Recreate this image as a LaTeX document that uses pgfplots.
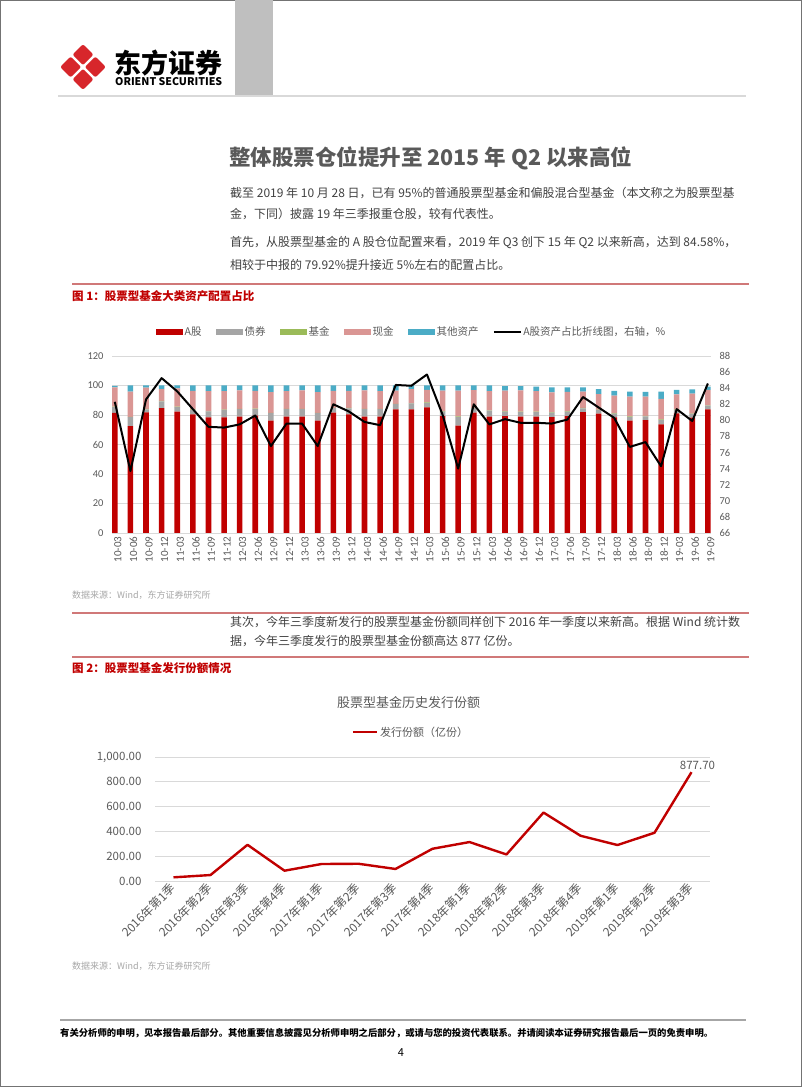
\documentclass[border=0pt]{standalone}
\usepackage{fontspec}
\setmainfont{Noto Sans CJK SC}
\newfontfamily\carlito{Carlito}
\usepackage{graphicx}
\usepackage{pgfplots}
\pgfplotsset{compat=1.18}
\usepackage{pgfplotstable}

\definecolor{ared}{HTML}{C00000}
\definecolor{bgray}{HTML}{A5A5A5}
\definecolor{fgreen}{HTML}{9BBB59}
\definecolor{cpink}{HTML}{DA9694}
\definecolor{oblue}{HTML}{4BACC6}
\definecolor{txt}{HTML}{404040}
\definecolor{tickc}{HTML}{595959}
\definecolor{gridc}{HTML}{D9D9D9}
\definecolor{rulec}{HTML}{D07878}
\definecolor{srcc}{HTML}{A6A6A6}
\definecolor{logored}{HTML}{D7262B}

\pgfplotsset{barleg/.style={legend image code/.code={\fill[##1] (0pt,-3pt) rectangle (27pt,3pt);}}}

\pgfplotstableread{
i a b f c d line
0 81.4 4.0 0.3 13.0 1.1 82.3
1 72.5 6.0 0.3 17.0 4.2 73.7
2 81.8 2.0 0.3 14.5 1.4 82.6
3 84.7 4.5 0.3 8.0 2.5 85.25
4 82.3 3.0 0.3 12.5 1.9 83.6
5 80.5 3.0 0.3 12.5 3.7 81.4
6 78.4 4.0 0.3 13.5 3.8 79.2
7 78.4 5.0 0.3 12.5 3.8 79.1
8 78.9 5.0 0.3 12.5 3.3 79.5
9 79.5 4.5 0.3 12.0 3.7 80.6
10 76.2 5.0 0.3 14.0 4.5 76.8
11 78.9 5.0 0.3 12.0 3.8 79.6
12 78.9 5.0 0.3 12.5 3.3 79.6
13 76.2 5.0 0.3 14.0 4.5 76.8
14 81.6 3.0 0.3 11.5 3.6 82.0
15 80.5 4.0 0.3 11.5 3.7 81.1
16 78.9 5.0 0.3 12.5 3.3 79.8
17 78.9 5.0 0.3 12.0 3.8 79.4
18 83.8 3.5 0.3 9.0 3.4 84.4
19 83.8 4.0 0.3 9.5 2.4 84.3
20 85.2 3.0 0.3 8.5 3.0 85.7
21 79.3 3.0 0.3 14.0 3.4 80.7
22 72.8 6.0 0.3 17.5 3.4 74.0
23 81.6 3.0 0.3 12.0 3.1 82.0
24 78.9 4.0 0.3 13.0 3.8 79.5
25 79.3 3.0 0.3 14.0 2.9 80.15
26 78.9 3.0 0.3 14.5 2.8 79.7
27 78.9 3.0 0.3 14.0 3.0 79.7
28 78.6 3.0 0.3 13.5 3.4 79.6
29 79.3 3.0 0.3 13.0 3.2 80.1
30 82.0 2.5 0.3 11.0 3.0 82.9
31 80.9 2.5 0.3 10.5 3.3 81.6
32 78.4 2.5 0.3 12.0 3.1 80.3
33 76.2 2.5 0.3 13.5 3.3 76.7
34 76.6 2.5 0.3 13.0 3.2 77.3
35 73.7 3.0 0.3 14.0 4.8 74.3
36 81.1 2.5 0.3 10.0 3.1 81.4
37 78.2 2.5 0.3 13.5 2.8 79.92
38 83.8 2.5 0.3 10.5 2.2 84.58
}\alloc

\pgfplotstableread{
i v
0 29.5
1 48
2 292
3 83
4 137
5 139
6 97
7 260
8 314
9 214
10 552
11 365
12 290
13 389
14 877.7
}\issue

\newcommand{\fs}[1]{\fontsize{#1}{#1}\selectfont}

\begin{document}
\begin{tikzpicture}[x=1pt,y=1pt]
\path[use as bounding box] (0pt,0pt) rectangle (802pt,1087pt);
\draw[black!55, line width=0.8pt] (0.6pt,0.6pt) rectangle (801.4pt,1086.4pt);

% ---------- header ----------
\fill[black!25] (235pt,1087pt) rectangle (273pt,991pt);
\draw[black!15, line width=2pt] (58pt,991pt) -- (746pt,991pt);
\begin{scope}[shift={(83pt,1020pt)}]
  \foreach \dx/\dy in {0/12.3, -12.3/0, 12.3/0, 0/-12.3}{
    \fill[logored, rounded corners=2pt] (\dx pt,\dy pt+10.5pt) -- (\dx pt+10.5pt,\dy pt) -- (\dx pt,\dy pt-10.5pt) -- (\dx pt-10.5pt,\dy pt) -- cycle;
  }
\end{scope}
\node[anchor=west, inner sep=0pt] at (114pt,1024pt) {\resizebox{108pt}{!}{\bfseries\fs{27}东方证券}};
\node[anchor=west, inner sep=0pt] at (115pt,1005pt) {\resizebox{107pt}{!}{\bfseries\fs{10}ORIENT SECURITIES}};

% ---------- title and text ----------
\node[anchor=west, inner sep=0pt, text=tickc] at (229pt,929pt) {\bfseries\fs{21.5}整体股票仓位提升至 2015 年 Q2 以来高位};
\node[anchor=west, inner sep=0pt, text=txt] at (230pt,894pt) {\fs{12}截至 2019 年 10 月 28 日，已有 95\%的普通股票型基金和偏股混合型基金（本文称之为股票型基};
\node[anchor=west, inner sep=0pt, text=txt] at (230pt,873pt) {\fs{12}金，下同）披露 19 年三季报重仓股，较有代表性。};
\node[anchor=west, inner sep=0pt, text=txt] at (230pt,844pt) {\fs{12}首先，从股票型基金的 A 股仓位配置来看，2019 年 Q3 创下 15 年 Q2 以来新高，达到 84.58\%，};
\node[anchor=west, inner sep=0pt, text=txt] at (230pt,822pt) {\fs{12}相较于中报的 79.92\%提升接近 5\%左右的配置占比。};

\draw[rulec, line width=1.3pt] (72pt,803pt) -- (749pt,803pt);
\node[anchor=west, inner sep=0pt, text=ared] at (72pt,791pt) {\bfseries\fs{11.5}图 1：股票型基金大类资产配置占比};

% ---------- chart 1 ----------
\begin{axis}[
  at={(112pt,554pt)}, anchor=south west,
  scale only axis, width=599pt, height=177pt,
  xmin=-0.18, xmax=38.2, ymin=0, ymax=120,
  ybar stacked, bar width=5.6pt,
  ytick={0,20,...,120},
  xtick={0,...,38},
  xticklabels={10-03,10-06,10-09,10-12,11-03,11-06,11-09,11-12,12-03,12-06,12-09,12-12,13-03,13-06,13-09,13-12,14-03,14-06,14-09,14-12,15-03,15-06,15-09,15-12,16-03,16-06,16-09,16-12,17-03,17-06,17-09,17-12,18-03,18-06,18-09,18-12,19-03,19-06,19-09},
  axis line style={draw=none},
  major tick length=0pt,
  ymajorgrids, grid style={gridc, line width=0.8pt},
  tick label style={font=\carlito\fs{10.5}, text=tickc},
  /pgf/number format/assume math mode=true,
  yticklabel style={xshift=-5pt},
  xticklabel style={font=\carlito\fs{11}, rotate=90, anchor=east, xshift=0pt, yshift=-3pt},
  legend style={at={(0.5,1.136)}, anchor=center, legend columns=6, draw=none, fill=none,
    font=\fs{10.5}, text=tickc, nodes={inner xsep=1.5pt},
    /tikz/every even column/.append style={column sep=13pt}},
  legend cell align=left,
]
\addplot[fill=ared, draw=none, barleg] table[x=i,y=a]{\alloc};
\addlegendentry{A股}
\addplot[fill=bgray, draw=none, barleg] table[x=i,y=b]{\alloc};
\addlegendentry{债券}
\addplot[fill=fgreen, draw=none, barleg] table[x=i,y=f]{\alloc};
\addlegendentry{基金}
\addplot[fill=cpink, draw=none, barleg] table[x=i,y=c]{\alloc};
\addlegendentry{现金}
\addplot[fill=oblue, draw=none, barleg] table[x=i,y=d]{\alloc};
\addlegendentry{其他资产}
\addlegendimage{legend image code/.code={\draw[black, line width=1.8pt] (0pt,0pt) -- (27pt,0pt);}}
\addlegendentry{A股资产占比折线图，右轴，\%}
\end{axis}

\begin{axis}[
  at={(112pt,554pt)}, anchor=south west,
  scale only axis, width=599pt, height=177pt,
  xmin=-0.18, xmax=38.2, ymin=66, ymax=88,
  ytick={66,68,...,88},
  axis x line=none,
  axis y line*=right,
  axis line style={draw=none},
  major tick length=0pt,
  tick label style={font=\carlito\fs{10.5}, text=tickc},
  /pgf/number format/assume math mode=true,
  yticklabel style={xshift=5pt},
]
\addplot[black, line width=2pt, mark=none, line join=round] table[x=i,y=line]{\alloc};
\end{axis}

\node[anchor=west, inner sep=0pt, text=srcc] at (72pt,492pt) {\fs{9}数据来源：Wind，东方证券研究所};
\draw[rulec, line width=1.3pt] (72pt,474pt) -- (749pt,474pt);
\node[anchor=west, inner sep=0pt, text=txt] at (230pt,465pt) {\fs{12}其次，今年三季度新发行的股票型基金份额同样创下 2016 年一季度以来新高。根据 Wind 统计数};
\node[anchor=west, inner sep=0pt, text=txt] at (230pt,446pt) {\fs{12}据，今年三季度发行的股票型基金份额高达 877 亿份。};
\draw[rulec, line width=1.3pt] (72pt,430pt) -- (749pt,430pt);
\node[anchor=west, inner sep=0pt, text=ared] at (72pt,419pt) {\bfseries\fs{11.5}图 2：股票型基金发行份额情况};

% ---------- chart 2 ----------
\begin{axis}[
  at={(155pt,206pt)}, anchor=south west,
  scale only axis, width=555pt, height=124pt,
  xmin=-0.5, xmax=14.5, ymin=0, ymax=1000,
  ytick={0,200,...,1000},
  yticklabels={0.00,200.00,400.00,600.00,800.00,{1,000.00}},
  xtick={0,...,14},
  xticklabels={2016年第1季,2016年第2季,2016年第3季,2016年第4季,2017年第1季,2017年第2季,2017年第3季,2017年第4季,2018年第1季,2018年第2季,2018年第3季,2018年第4季,2019年第1季,2019年第2季,2019年第3季},
  axis line style={draw=none},
  major tick length=0pt,
  ymajorgrids, grid style={gridc, line width=0.8pt},
  yticklabel style={font=\fs{11.5}, text=tickc, xshift=-10pt},
  xticklabel style={font=\fs{12}, text=tickc, rotate=45, anchor=east, yshift=-3pt},
  title={股票型基金历史发行份额},
  title style={at={(0.457,1.39)}, anchor=center, font=\fs{13}, text=tickc},
  legend style={at={(0.461,1.2)}, anchor=center, draw=none, fill=none, font=\fs{11}, text=tickc},
  legend image code/.code={\draw[#1] (0pt,0pt) -- (24pt,0pt);},
]
\addplot[ared, line width=2.4pt, mark=none, line join=round] table[x=i,y=v]{\issue};
\addlegendentry{发行份额（亿份）}
\addplot[draw=none, mark=none, forget plot, nodes near coords={877.70},
  every node near coord/.append style={font=\fs{11.5}, text=tickc, anchor=south, xshift=6pt, yshift=-1pt}]
  coordinates {(14,877.7)};
\end{axis}

\node[anchor=west, inner sep=0pt, text=srcc] at (72pt,121pt) {\fs{9}数据来源：Wind，东方证券研究所};

% ---------- footer ----------
\draw[black!35, line width=2pt] (60pt,67pt) -- (746pt,67pt);
\node[anchor=west, inner sep=0pt] at (60pt,54pt) {\resizebox{653pt}{!}{\bfseries\fs{9.5}有关分析师的申明，见本报告最后部分。其他重要信息披露见分析师申明之后部分，或请与您的投资代表联系。并请阅读本证券研究报告最后一页的免责申明。}};
\node[inner sep=0pt] at (401pt,34pt) {\fs{11}4};
\end{tikzpicture}
\end{document}
